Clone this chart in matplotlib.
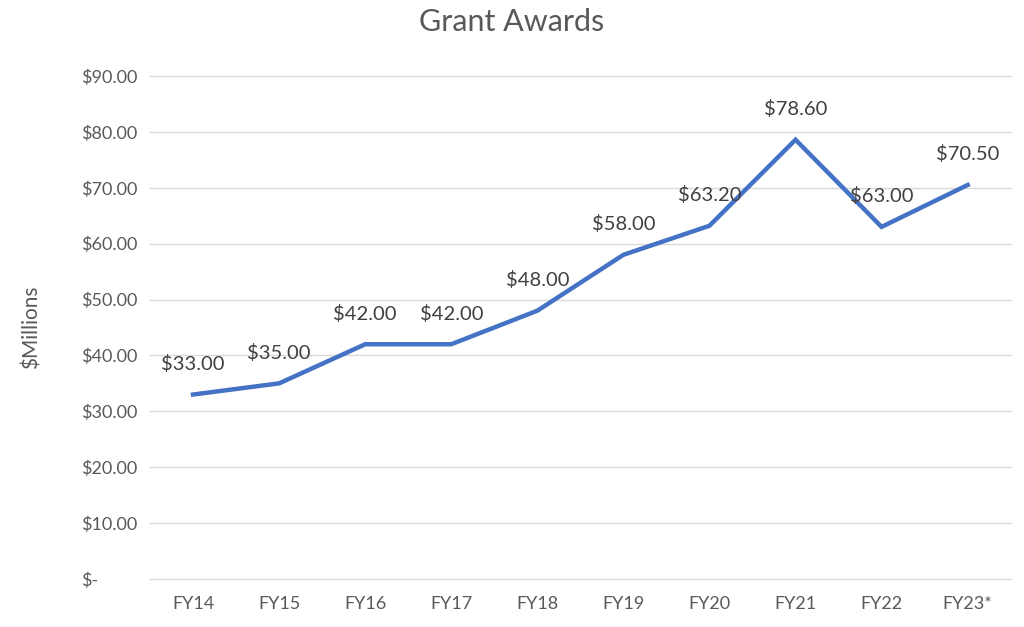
import matplotlib
matplotlib.use("Agg")
import matplotlib.pyplot as plt

years = ["FY14", "FY15", "FY16", "FY17", "FY18", "FY19", "FY20", "FY21", "FY22", "FY23*"]
awards = [33.00, 35.00, 42.00, 42.00, 48.00, 58.00, 63.20, 78.60, 63.00, 70.50]
y_ticks = [0, 10, 20, 30, 40, 50, 60, 70, 80, 90]

plt.rcParams["font.family"] = ["Lato", "DejaVu Sans"]

fig = plt.figure(figsize=(10.24, 6.27), dpi=100)
ax = fig.add_axes([0.1465, 0.0766, 0.8405, 0.8022])

x = list(range(len(years)))
ax.plot(x, awards, color="#4472C4", linewidth=3.2, solid_joinstyle="miter", zorder=3)

for xi, v in zip(x, awards):
    ax.annotate(f"${v:.2f}", (xi, v), xytext=(0, 22), textcoords="offset points",
                ha="center", va="center", fontsize=14.5, color="#404040", zorder=4)

ax.set_xlim(-0.5, len(years) - 0.5)
ax.set_ylim(0, 90)
ax.set_xticks(x)
ax.set_xticklabels(years)
ax.set_yticks(y_ticks)
ax.set_yticklabels(["$-" if t == 0 else f"${t:.2f}" for t in y_ticks])
for lbl in ax.get_yticklabels():
    lbl.set_horizontalalignment("left")

ax.tick_params(axis="y", length=0, pad=50, labelsize=13, labelcolor="#595959")
ax.tick_params(axis="x", length=0, pad=12, labelsize=13, labelcolor="#595959")
ax.grid(axis="y", color="#D9D9D9", linewidth=1)
for gl in ax.get_ygridlines():
    gl.set_clip_on(False)
ax.set_axisbelow(True)
for s in ax.spines.values():
    s.set_visible(False)

ax.set_ylabel("$Millions", fontsize=15, color="#595959", labelpad=28)
fig.text(0.5, 0.965, "Grant Awards", ha="center", va="center", fontsize=22, color="#595959")

fig.savefig("out.png", dpi=100)
